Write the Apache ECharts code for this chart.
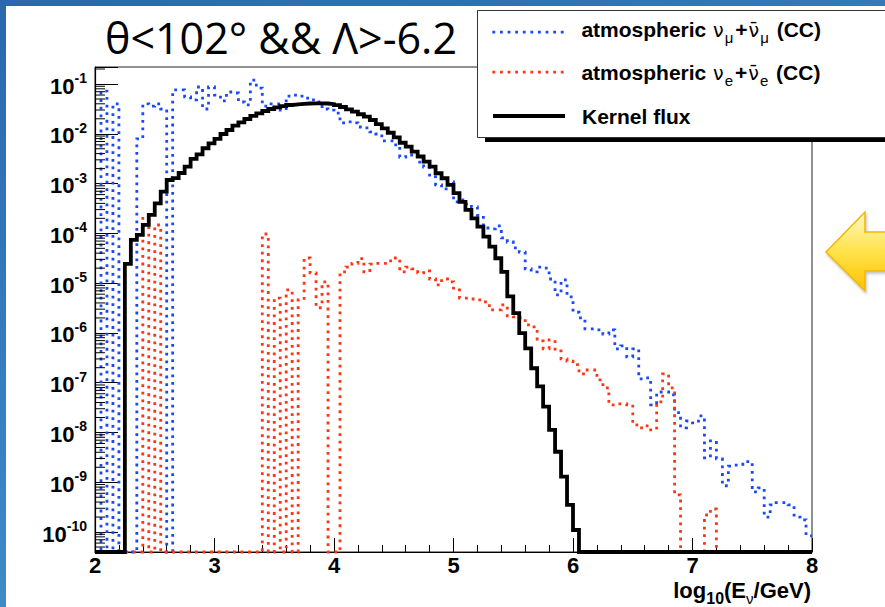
<!DOCTYPE html>
<html><head><meta charset="utf-8">
<script src="https://cdn.jsdelivr.net/npm/echarts@6/dist/echarts.min.js"></script>
<style>html,body{margin:0;padding:0;background:#fff}#c{width:885px;height:607px}</style>
</head><body><div id="c"></div>
<script>
// ---- bins: log10(E/GeV) from 2 to 8, width 0.05 (120 bins) ----
const binStart = 2.0;
const binWidth = 0.05;

// atmospheric numu + anti-numu (CC), per bin (0 = empty bin)
const numuCC = [
 0, 7.2e-2, 0, 4.0e-2, 0, 0, 0, 7.9e-3, 4.0e-2, 3.6e-2,
 4.0e-2, 3.15e-2, 0, 7.6e-2, 7.6e-2, 5.5e-2, 4.8e-2, 8.7e-2, 3.15e-2, 8.7e-2,
 6.0e-2, 4.6e-2, 6.9e-2, 6.6e-2, 4.35e-2, 3.8e-2, 1.2e-1, 8.3e-2, 3.6e-2, 4.0e-2,
 4.0e-2, 3.0e-2, 5.7e-2, 6.0e-2, 5.7e-2, 5.2e-2, 4.8e-2, 4.35e-2, 3.15e-2, 3.0e-2,
 2.6e-2, 1.65e-2, 1.73e-2, 1.65e-2, 1.37e-2, 1.31e-2, 1.09e-2, 9.9e-3, 7.2e-3, 7.2e-3,
 6.0e-3, 3.4e-3, 3.75e-3, 3.75e-3, 2.7e-3, 2.15e-3, 1.36e-3, 9.4e-4, 7.8e-4, 1.08e-3,
 4.3e-4, 4.7e-4, 3.9e-4, 3.4e-4, 2.3e-4, 1.28e-4, 1.23e-4, 1.41e-4, 8.1e-5, 6.7e-5,
 5.1e-5, 4.2e-5, 1.93e-5, 1.68e-5, 2.1e-5, 2.0e-5, 1.21e-5, 5.8e-6, 1.16e-5, 5.3e-6,
 2.6e-6, 2.0e-6, 1.2e-6, 1.2e-6, 1.15e-6, 9.5e-7, 1.15e-6, 4.8e-7, 5.5e-7, 3.3e-7,
 4.8e-7, 1.19e-7, 1.25e-7, 3.6e-8, 6.5e-8, 6.5e-8, 5.7e-8, 2.5e-8, 1.24e-8, 1.7e-8,
 1.56e-8, 2.15e-8, 3.1e-9, 6.8e-9, 2.95e-9, 8.5e-10, 2.1e-9, 2.2e-9, 2.3e-9, 2.6e-9,
 6.4e-10, 7.7e-10, 2.0e-10, 3.5e-10, 3.9e-10, 3.9e-10, 3.5e-10, 2.0e-10, 1.76e-10, 8.4e-11
];

// atmospheric nue + anti-nue (CC)
const nueCC = [
 0, 0, 0, 0, 0, 0, 0, 0, 2.0e-4, 0,
 1.47e-4, 0, 0, 0, 0, 0, 0, 0, 0, 0,
 0, 0, 0, 0, 0, 0, 0, 0, 9.7e-5, 0,
 5.0e-6, 0, 7.3e-6, 0, 4.6e-6, 3.2e-5, 1.6e-5, 3.2e-6, 1.06e-5, 0,
 0, 1.68e-5, 2.1e-5, 2.5e-5, 3.1e-5, 1.68e-5, 2.4e-5, 2.5e-5, 2.5e-5, 2.8e-5,
 3.2e-5, 1.68e-5, 2.1e-5, 1.93e-5, 1.6e-5, 1.76e-5, 1.21e-5, 9.2e-6, 1.21e-5, 1.06e-5,
 7.3e-6, 5.0e-6, 5.0e-6, 4.8e-6, 4.6e-6, 4.2e-6, 2.9e-6, 2.9e-6, 3.65e-6, 2.2e-6,
 2.1e-6, 2.0e-6, 1.45e-6, 1.32e-6, 6.9e-7, 4.8e-7, 7.2e-7, 4.35e-7, 3.0e-7, 2.7e-7,
 2.3e-7, 1.5e-7, 1.8e-7, 1.8e-7, 1.14e-7, 7.9e-8, 3.6e-8, 3.75e-8, 3.75e-8, 3.6e-8,
 1.42e-8, 1.24e-8, 1.36e-8, 1.13e-8, 4.1e-8, 1.5e-7, 7.9e-8, 5.6e-10, 0, 0,
 0, 0, 2.2e-10, 2.9e-10, 0, 0, 0, 0, 0, 0,
 0, 0, 0, 0, 0, 0, 0, 0, 0, 0
];

// Kernel flux
const kernelFlux = [
 0, 0, 0, 0, 0, 2.43e-5, 7.4e-5, 9.3e-5, 1.48e-4, 2.34e-4,
 4.0e-4, 6.9e-4, 1.18e-3, 1.29e-3, 1.63e-3, 2.18e-3, 3.12e-3, 3.87e-3, 5.12e-3, 6.44e-3,
 7.87e-3, 9.9e-3, 1.19e-2, 1.46e-2, 1.70e-2, 1.98e-2, 2.28e-2, 2.58e-2, 2.87e-2, 3.15e-2,
 3.40e-2, 3.61e-2, 3.79e-2, 3.91e-2, 4.00e-2, 4.06e-2, 4.09e-2, 4.09e-2, 4.06e-2, 3.93e-2,
 3.75e-2, 3.45e-2, 3.10e-2, 2.78e-2, 2.47e-2, 2.21e-2, 1.89e-2, 1.57e-2, 1.29e-2, 1.05e-2,
 8.5e-3, 6.6e-3, 5.5e-3, 4.4e-3, 3.5e-3, 2.75e-3, 2.18e-3, 1.61e-3, 1.28e-3, 9.4e-4,
 6.4e-4, 4.3e-4, 2.95e-4, 2.0e-4, 1.36e-4, 8.6e-5, 5.4e-5, 3.16e-5, 1.68e-5, 5.4e-6,
 2.5e-6, 9.9e-7, 4.9e-7, 1.95e-7, 8.4e-8, 3.3e-8, 1.13e-8, 4.1e-9, 1.3e-9, 3.5e-10,
 1.1e-10, 0, 0, 0, 0, 0, 0, 0, 0, 0,
 0, 0, 0, 0, 0, 0, 0, 0, 0, 0,
 0, 0, 0, 0, 0, 0, 0, 0, 0, 0,
 0, 0, 0, 0, 0, 0, 0, 0, 0, 0
];

const xTickValues = [2, 3, 4, 5, 6, 7, 8];
const yDecadeExponents = [-10, -9, -8, -7, -6, -5, -4, -3, -2, -1];
const yMinorMultipliers = [2, 3, 4, 5, 6, 7, 8, 9];

const S_NUMU = 'atmospheric νμ+ν̄μ (CC)';
const S_NUE = 'atmospheric νe+ν̄e (CC)';
const S_KER = 'Kernel flux';

// y axis range in log10 units (ROOT frame ~4e-11 .. 0.22)
const Y_MIN = -10.401, Y_MAX = -0.6585;
const FONT = "'Liberation Sans', Arial, Helvetica, sans-serif";
const GFONT = "'DejaVu Sans', 'Liberation Sans', sans-serif";
const DOT = [2.8, 4.8];

function toStep(vals) {
  const d = vals.map((v, i) => [+(binStart + binWidth * i).toFixed(3), v > 0 ? Math.log10(v) : Y_MIN]);
  d.push([+(binStart + binWidth * vals.length).toFixed(3), d[d.length - 1][1]]);
  return d;
}
const minorTicks = [];
for (let d = -11; d <= 0; d++) {
  yMinorMultipliers.forEach(m => {
    const v = d + Math.log10(m);
    if (v > Y_MIN && v < Y_MAX) minorTicks.push([xTickValues[0], v]);
  });
}

function legendRich(p) {
  return {
    a: {fontFamily: FONT, fontWeight: 'bold', fontSize: 21, color: '#000', verticalAlign: 'top', padding: [p, 0, 0, 0]},
    g: {fontFamily: GFONT, fontWeight: 'normal', fontSize: 19, color: '#000', verticalAlign: 'top', padding: [p + 1, 1, 0, 1]},
    s: {fontFamily: FONT, fontWeight: 'normal', fontSize: 15, color: '#000', verticalAlign: 'top', padding: [p + 11, 2, 0, 0]},
    sp: {width: 12, fontSize: 10, verticalAlign: 'top'}
  };
}
const legendText = {};
legendText[S_NUMU] = '{sp| }{a|atmospheric }{g|ν}{s|μ}{a|+}{g|ν̄}{s|μ}{a| (CC)}';
legendText[S_NUE] = '{sp| }{a|atmospheric }{g|ν}{s|e}{a|+}{g|ν̄}{s|e}{a| (CC)}';
legendText[S_KER] = '{sp| }{a|Kernel flux}';

function mkLegend(name, top, p, lw, dash) {
  return {
    data: [name], left: 491, top: top, orient: 'vertical', padding: 0,
    itemWidth: 72, itemHeight: 14, selectedMode: false, z: 110,
    itemStyle: {opacity: 0, borderWidth: 0},
    lineStyle: {width: lw, type: dash, cap: 'butt'},
    formatter: n => legendText[n],
    textStyle: {color: '#000', rich: legendRich(p)}
  };
}

const chart = echarts.init(document.getElementById('c'), null, {renderer: 'svg', width: 885, height: 607});
chart.setOption({
  animation: false,
  backgroundColor: '#ffffff',
  grid: {left: 95, top: 67, width: 717, height: 485, show: true, borderColor: '#222', borderWidth: 1, backgroundColor: 'transparent'},
  xAxis: {
    type: 'value', min: xTickValues[0], max: xTickValues[xTickValues.length - 1], interval: 1,
    axisLine: {show: true, onZero: false, lineStyle: {color: '#000', width: 1.2}},
    axisTick: {show: true, inside: true, length: 14, lineStyle: {color: '#000', width: 1}},
    minorTick: {show: true, splitNumber: 5, length: 7, lineStyle: {color: '#000', width: 1}},
    splitLine: {show: false}, minorSplitLine: {show: false},
    axisLabel: {fontFamily: FONT, fontWeight: 'bold', fontSize: 22, lineHeight: 18, color: '#000', margin: 4}
  },
  yAxis: {
    type: 'value', min: Y_MIN, max: Y_MAX, splitNumber: 10,
    axisLine: {show: true, onZero: false, lineStyle: {color: '#000', width: 1.2}},
    axisTick: {show: true, inside: true, length: 23, lineStyle: {color: '#000', width: 1}},
    splitLine: {show: false},
    axisLabel: {
      margin: 8, color: '#000',
      formatter: v => {
        const r = Math.round(v);
        if (Math.abs(v - r) > 1e-6 || yDecadeExponents.indexOf(r) < 0) return '';
        return '{b|10}{s|' + r + '}';
      },
      rich: {
        b: {fontFamily: FONT, fontWeight: 'bold', fontSize: 22, color: '#000', verticalAlign: 'top', padding: [4, 0, 0, 0]},
        s: {fontFamily: FONT, fontWeight: 'bold', fontSize: 14, color: '#000', verticalAlign: 'top'}
      }
    }
  },
  legend: [
    mkLegend(S_NUMU, 19.2, 0, 2.8, DOT),
    mkLegend(S_NUE, 56.2, 6, 2.8, DOT),
    mkLegend(S_KER, 105.5, 0, 4, 'solid')
  ],
  series: [
    {name: S_NUMU, type: 'line', step: 'end', data: toStep(numuCC), symbol: 'none', showSymbol: false, clip: false, silent: true, z: 2,
      color: '#1a48ff', lineStyle: {color: '#1a48ff', width: 2.8, type: DOT, cap: 'butt', join: 'miter'}},
    {name: S_NUE, type: 'line', step: 'end', data: toStep(nueCC), symbol: 'none', showSymbol: false, clip: false, silent: true, z: 3,
      color: '#ff3414', lineStyle: {color: '#ff3414', width: 2.8, type: DOT, cap: 'butt', join: 'miter'}},
    {name: S_KER, type: 'line', step: 'end', data: toStep(kernelFlux), symbol: 'none', showSymbol: false, clip: false, silent: true, z: 4,
      color: '#000', lineStyle: {color: '#000', width: 3.8, type: 'solid', join: 'miter'}},
    {name: 'yMinorTicks', type: 'custom', silent: true, z: 5, clip: false, data: minorTicks,
      renderItem: (params, api) => {
        const p = api.coord([api.value(0), api.value(1)]);
        return {type: 'line', shape: {x1: p[0], y1: p[1], x2: p[0] + 10, y2: p[1]}, style: {stroke: '#000', lineWidth: 1}};
      }}
  ],
  graphic: [
    {type: 'rect', z: 100, shape: {x: 485, y: 136, width: 420, height: 6}, style: {fill: '#000'}},
    {type: 'rect', z: 101, shape: {x: 477.5, y: 10.5, width: 420, height: 127}, style: {fill: '#fff', stroke: '#333', lineWidth: 1}},
    {type: 'text', z: 60, x: 105, y: 37, style: {text: 'θ<102° && Λ>-6.2', fontFamily: "'Open Sans', 'Noto Sans', sans-serif", fontSize: 43, fill: '#000', align: 'left', verticalAlign: 'middle'}},
    {type: 'text', z: 60, x: 811, y: 579, style: {
      text: '{a|log}{s|10}{a|(E}{t|ν}{a|/GeV)}', align: 'right', verticalAlign: 'top',
      rich: {
        a: {fontFamily: FONT, fontWeight: 'bold', fontSize: 22, fill: '#000', color: '#000', verticalAlign: 'top'},
        s: {fontFamily: FONT, fontWeight: 'bold', fontSize: 16, fill: '#000', color: '#000', verticalAlign: 'top', padding: [11, 0, 0, 0]},
        t: {fontFamily: FONT, fontWeight: 'normal', fontSize: 15, fill: '#000', color: '#000', verticalAlign: 'top', padding: [12, 0, 0, 0]}
      }}},
    {type: 'polygon', z: 60, shape: {points: [[826, 252], [865, 212], [865, 232], [892, 232], [892, 271], [865, 271], [865, 291]]},
      style: {fill: {type: 'linear', x: 0, y: 0, x2: 0, y2: 1, colorStops: [{offset: 0, color: '#fff8c4'}, {offset: 0.5, color: '#ffe24a'}, {offset: 1, color: '#ffc200'}]},
        stroke: '#f2b600', lineWidth: 1.5, shadowBlur: 3, shadowColor: 'rgba(0,0,0,0.25)', shadowOffsetX: 1, shadowOffsetY: 2}},
    {type: 'rect', z: 200, shape: {x: 0, y: 0, width: 6, height: 607},
      style: {fill: {type: 'linear', x: 0, y: 0, x2: 0, y2: 1, colorStops: [{offset: 0, color: '#2b68ae'}, {offset: 1, color: '#3e8bc6'}]}}},
    {type: 'rect', z: 200, shape: {x: 0, y: 0, width: 885, height: 6},
      style: {fill: {type: 'linear', x: 0, y: 0, x2: 1, y2: 0, colorStops: [{offset: 0, color: '#2b68ae'}, {offset: 1, color: '#3479bb'}]}}}
  ]
});
</script>
</body></html>
